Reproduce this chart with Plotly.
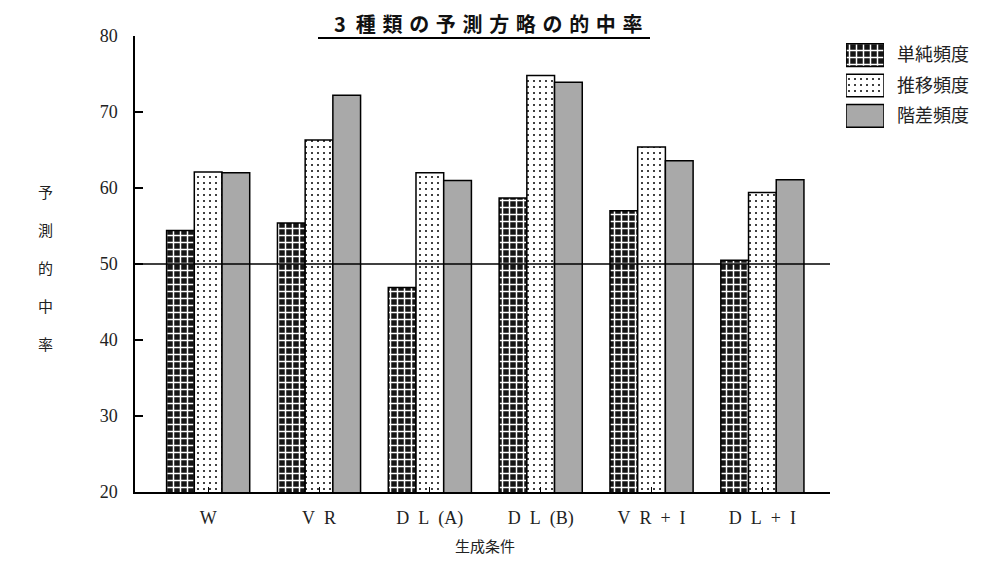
import plotly.graph_objects as go

# ---------------- data ----------------
categories = ["W", "V\u2002R", "D\u2002L\u2002(A)", "D\u2002L\u2002(B)", "V\u2002R\u2002+\u2002I", "D\u2002L\u2002+\u2002I"]
series_names = ["単純頻度", "推移頻度", "階差頻度"]
simple_freq = [54.4, 55.4, 46.9, 58.7, 57.0, 50.5]
transition_freq = [62.1, 66.3, 62.0, 74.8, 65.4, 59.4]
difference_freq = [62.0, 72.2, 61.0, 73.9, 63.6, 61.1]
y_ticks = [20, 30, 40, 50, 60, 70, 80]
reference_level = 50
title_text = "3\u2002種\u2004類\u2004の\u2004予\u2004測\u2004方\u2004略\u2004の\u2004的\u2004中\u2004率"
x_title = "生成条件"
y_title_chars = ["予", "測", "的", "中", "率"]

# ---------------- styles ----------------
SERIF = "Liberation Serif, DejaVu Serif, serif"
CJK = "Noto Sans CJK JP, sans-serif"
styles = [
    dict(shape="+", fg="#ffffff", bg="#151515", size=7, solidity=0.38),
    dict(shape=".", fg="#000000", bg="#ffffff", size=6, solidity=0.09),
    dict(shape="", fg="#a9a9a9", bg="#a9a9a9", size=6, solidity=0.3),
]
values = [simple_freq, transition_freq, difference_freq]


def marker_for(st):
    return dict(
        color=st["bg"],
        line=dict(color="#000000", width=1.5),
        pattern=dict(shape=st["shape"], fgcolor=st["fg"], bgcolor=st["bg"],
                     size=st["size"], solidity=st["solidity"], fillmode="replace"),
    )


fig = go.Figure()
for name, vals, st in zip(series_names, values, styles):
    fig.add_trace(go.Bar(x=categories, y=vals, name=name, showlegend=False,
                         marker=marker_for(st)))

# custom legend drawn as a tiny subplot (one swatch per series)
for name, st in zip(series_names, styles):
    fig.add_trace(go.Bar(x=[1], y=[name], orientation="h", xaxis="x2", yaxis="y2",
                         offsetgroup="legend", showlegend=False, hoverinfo="skip",
                         marker=marker_for(st)))

# page geometry (the page body adds an 8px offset)
W, H = 983, 567
OFF = 8
L, T = 135 - OFF, 36 - OFF
B = H - (492 - OFF)
R = 3
pw = W - L - R
ph = H - T - B


def px_x(px):
    return (px - OFF - L) / pw


def px_y(py):
    return 1 - (py - OFF - T) / ph


fig.update_layout(
    template="none",
    width=W, height=H,
    margin=dict(l=L, r=R, t=T, b=B, pad=0),
    paper_bgcolor="#ffffff", plot_bgcolor="#ffffff",
    barmode="group", bargap=0.25, bargroupgap=0,
    showlegend=False,
    font=dict(family=SERIF, color="#111111"),
    xaxis=dict(
        domain=[0, px_x(830)], type="category", range=[-0.66, 5.61],
        showline=True, linecolor="#000000", linewidth=1.5, mirror=False,
        ticks="inside", ticklen=5, tickcolor="#000000", tickwidth=1,
        showgrid=False, zeroline=False, automargin=False,
        tickfont=dict(family=SERIF, size=18, color="#222222"),
        ticklabelstandoff=9,
    ),
    yaxis=dict(
        range=[20, 80], tickvals=y_ticks,
        showline=True, linecolor="#000000", linewidth=1.5,
        ticks="inside", ticklen=8, tickcolor="#000000", tickwidth=1.5,
        showgrid=False, zeroline=False, automargin=False,
        tickfont=dict(family=SERIF, size=18, color="#222222"),
        ticklabelstandoff=12,
    ),
    xaxis2=dict(domain=[px_x(846), px_x(884)], range=[0, 1], anchor="y2",
                visible=False, fixedrange=True),
    yaxis2=dict(domain=[px_y(131), px_y(40)], anchor="x2", type="category",
                categoryorder="array", categoryarray=series_names,
                range=[2.5, -0.5], side="right", showline=False, ticks="",
                showgrid=False, zeroline=False, automargin=False,
                tickfont=dict(family=CJK, size=18, color="#222222"),
                ticklabelstandoff=12),
)

# reference line at 50
fig.add_shape(type="line", xref="x domain", yref="y", x0=0, x1=1,
              y0=reference_level, y1=reference_level,
              line=dict(color="#000000", width=1.5), layer="above")

# title + underline
fig.add_annotation(text=title_text, xref="paper", yref="paper",
                   x=px_x(488), y=px_y(23), xanchor="center", yanchor="middle",
                   borderpad=0,
                   showarrow=False, font=dict(family=CJK, size=20, color="#111111", weight="bold"))
fig.add_shape(type="line", xref="paper", yref="paper",
              x0=px_x(318), x1=px_x(650), y0=px_y(38), y1=px_y(38),
              line=dict(color="#000000", width=2))

# x-axis title
fig.add_annotation(text=x_title, xref="paper", yref="paper",
                   x=px_x(485), y=px_y(545), xanchor="center", yanchor="middle",
                   showarrow=False, font=dict(family=CJK, size=15, color="#222222"))

# vertical y-axis title, one character per line
char_rows = [59.6, 54.6, 49.6, 44.6, 39.6]
for ch, yy in zip(y_title_chars, char_rows):
    fig.add_annotation(text=ch, xref="paper", yref="y", x=px_x(45), y=yy,
                       xanchor="center", yanchor="middle", showarrow=False,
                       font=dict(family=CJK, size=15, color="#222222"))

fig.write_html("out.html")
